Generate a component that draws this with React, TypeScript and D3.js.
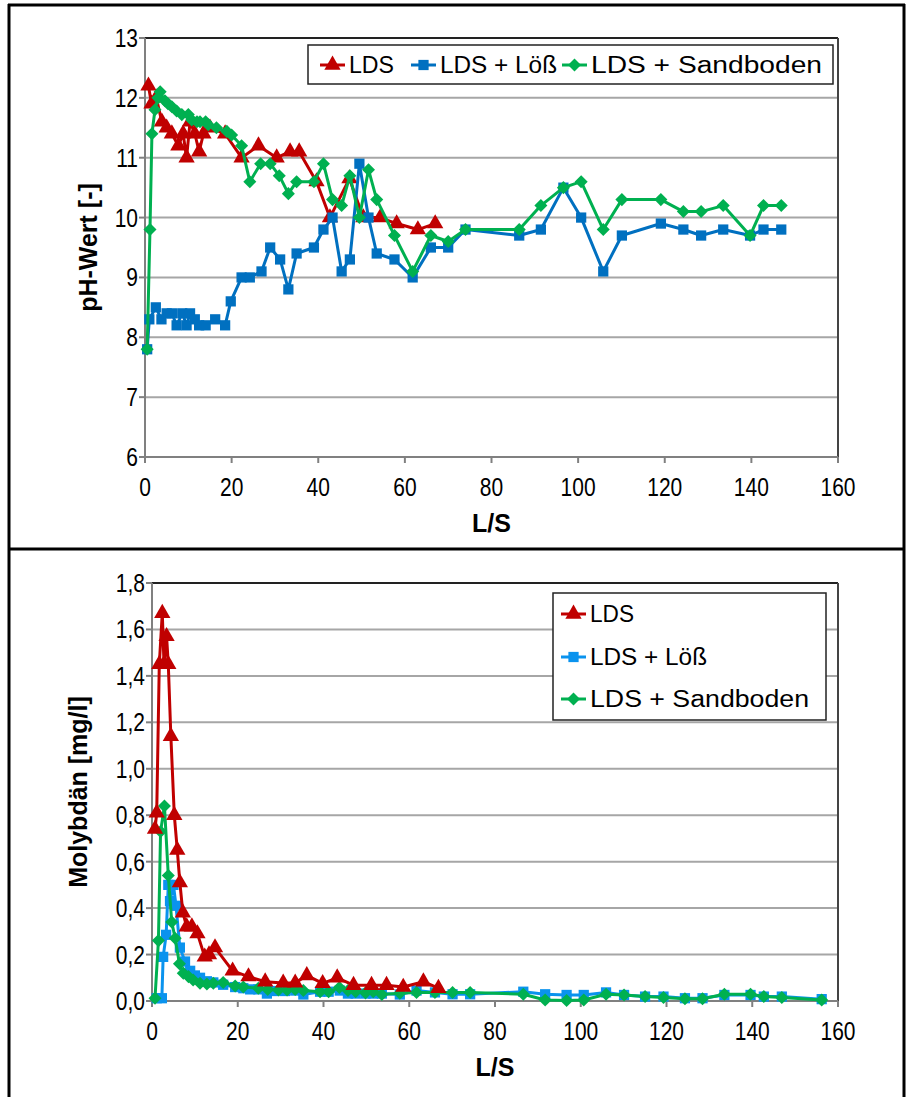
import React from 'react';
import * as d3 from 'd3';

// L/S vs value
const phLds = [[0.8,12.2],[1.5,11.9],[2.6,12.0],[3.9,11.6],[5.0,11.5],[6.2,11.4],[7.7,11.2],[8.8,11.4],[9.6,11.0],[10.4,11.6],[11.5,11.4],[12.5,11.1],[13.5,11.4],[15.0,11.5],[18.5,11.4],[22.3,11.0],[26.2,11.2],[30.4,11.0],[33.5,11.1],[35.6,11.1],[39.6,10.6],[42.7,10.0],[47.2,10.65],[50.4,10.0],[54.3,10.0],[58.1,9.9],[63.0,9.8],[67.0,9.9]];
const phLoess = [[0.5,7.8],[1.0,8.3],[2.5,8.5],[3.8,8.3],[5.0,8.4],[6.2,8.4],[7.3,8.2],[8.6,8.4],[9.6,8.2],[10.4,8.4],[11.5,8.3],[12.5,8.2],[14.0,8.2],[16.2,8.3],[18.5,8.2],[19.8,8.6],[22.3,9.0],[24.2,9.0],[26.9,9.1],[28.9,9.5],[31.2,9.3],[33.1,8.8],[35.0,9.4],[39.0,9.5],[41.2,9.8],[43.3,10.0],[45.4,9.1],[47.3,9.3],[49.5,10.9],[51.6,10.0],[53.5,9.4],[57.6,9.3],[61.8,9.0],[66.0,9.5],[70.0,9.5],[74.0,9.8],[86.4,9.7],[91.4,9.8],[96.6,10.5],[100.7,10.0],[105.8,9.1],[110.1,9.7],[119.1,9.9],[124.3,9.8],[128.4,9.7],[133.5,9.8],[139.7,9.7],[142.8,9.8],[146.9,9.8]];
const phSand = [[0.5,7.8],[1.15,9.8],[1.6,11.4],[2.3,11.8],[3.0,12.0],[3.5,12.1],[4.6,11.95],[5.3,11.9],[6.2,11.85],[7.3,11.78],[8.5,11.72],[10.0,11.72],[10.8,11.63],[12.0,11.6],[12.7,11.6],[14.0,11.6],[14.6,11.55],[16.5,11.5],[18.9,11.44],[20.0,11.38],[22.3,11.2],[24.2,10.6],[26.7,10.9],[28.9,10.9],[31.0,10.7],[33.1,10.4],[35.0,10.6],[39.0,10.6],[41.2,10.9],[43.3,10.3],[45.4,10.2],[47.3,10.7],[49.5,10.0],[51.6,10.8],[53.5,10.3],[57.6,9.7],[61.8,9.1],[66.0,9.7],[70.0,9.6],[74.0,9.8],[86.4,9.8],[91.4,10.2],[96.6,10.5],[100.7,10.6],[105.8,9.8],[110.1,10.3],[119.1,10.3],[124.3,10.1],[128.4,10.1],[133.5,10.2],[139.7,9.7],[142.8,10.2],[146.9,10.2]];

const moLds = [[0.7,0.74],[1.1,0.81],[1.7,1.45],[2.4,1.67],[2.8,1.45],[3.4,1.57],[3.8,1.45],[4.4,1.14],[5.2,0.80],[5.9,0.65],[6.5,0.51],[7.2,0.38],[8.1,0.32],[9.3,0.32],[10.6,0.29],[12.3,0.19],[13.3,0.20],[14.7,0.23],[18.8,0.13],[22.5,0.105],[26.4,0.083],[30.6,0.078],[33.4,0.078],[36.1,0.11],[39.8,0.076],[43.2,0.10],[47.0,0.068],[51.2,0.068],[54.7,0.068],[58.6,0.06],[63.3,0.083],[66.8,0.055]];
const moLoess = [[1.1,0.012],[2.3,0.012],[2.6,0.19],[3.3,0.285],[3.8,0.50],[4.2,0.43],[5.0,0.50],[5.6,0.41],[6.5,0.23],[7.7,0.17],[8.9,0.13],[10.0,0.11],[11.2,0.10],[12.8,0.085],[14.3,0.08],[16.6,0.07],[19.4,0.06],[21.3,0.055],[22.9,0.05],[24.8,0.05],[26.8,0.032],[28.6,0.043],[31.0,0.043],[33.4,0.045],[35.3,0.028],[39.2,0.04],[41.2,0.04],[43.8,0.045],[45.7,0.032],[47.5,0.032],[49.8,0.032],[51.6,0.032],[53.6,0.032],[57.8,0.028],[61.7,0.045],[66.0,0.037],[70.1,0.029],[74.2,0.029],[86.6,0.04],[91.7,0.029],[96.7,0.026],[100.7,0.026],[105.9,0.037],[110.1,0.026],[115.0,0.019],[119.3,0.019],[124.3,0.012],[128.4,0.012],[133.5,0.026],[139.6,0.026],[142.7,0.019],[146.9,0.019],[156.2,0.008]];
const moSand = [[0.7,0.012],[1.5,0.26],[2.0,0.73],[2.9,0.84],[3.8,0.54],[4.6,0.34],[5.4,0.27],[6.4,0.16],[7.3,0.12],[8.5,0.105],[9.6,0.09],[11.2,0.076],[12.8,0.073],[14.3,0.076],[16.6,0.08],[19.4,0.065],[21.3,0.06],[24.8,0.055],[27.0,0.05],[29.5,0.047],[31.5,0.047],[33.4,0.05],[35.3,0.045],[39.2,0.04],[41.2,0.04],[43.7,0.058],[45.7,0.045],[47.5,0.04],[49.8,0.035],[51.6,0.04],[53.6,0.028],[57.8,0.033],[61.7,0.037],[66.0,0.037],[70.1,0.037],[74.2,0.037],[86.6,0.029],[91.7,0.004],[96.7,0.002],[100.7,0.004],[105.9,0.029],[110.1,0.026],[115.0,0.019],[119.3,0.015],[124.3,0.01],[128.4,0.01],[133.5,0.029],[139.6,0.029],[142.7,0.019],[146.9,0.015],[156.2,0.004]];

const xTicks = [0, 20, 40, 60, 80, 100, 120, 140, 160];
const phTicks = [6, 7, 8, 9, 10, 11, 12, 13];
const moTicks = [0, 0.2, 0.4, 0.6, 0.8, 1.0, 1.2, 1.4, 1.6, 1.8];
const seriesNames = ['LDS', 'LDS + Löß', 'LDS + Sandboden'];

const RED = '#C00000';
const GREEN = '#00B050';
const GRID = '#A6A6A6';
const FONT = '"Liberation Sans", Arial, sans-serif';

// symmetric diamond like Excel's marker
const diamond = {
  draw(ctx: any, size: number) {
    const r = Math.sqrt(size / 2);
    ctx.moveTo(0, -r);
    ctx.lineTo(r, 0);
    ctx.lineTo(0, r);
    ctx.lineTo(-r, 0);
    ctx.closePath();
  },
};

const markers: any = {
  tri: d3.symbol().type(d3.symbolTriangle).size(115)(),
  sq: d3.symbol().type(d3.symbolSquare).size(105)(),
  dia: d3.symbol().type(diamond as any).size(85)(),
};

type Series = { name: string; data: number[][]; color: string; marker: string };

// condensed tick label, like the narrow Arial in the original
function Tick({ x, y, anchor, children }: any) {
  return (
    <text
      transform={`translate(${x},${y}) scale(0.84,1)`}
      dy="0.36em"
      textAnchor={anchor}
      fontSize={25}
      fontFamily={FONT}
    >
      {children}
    </text>
  );
}

function Legend({ series, items, lengths }: any) {
  return (
    <g>
      {series.map((s: Series, i: number) => {
        const p = items[i];
        return (
          <g key={'lg' + i}>
            <line x1={p[0]} x2={p[0] + 25} y1={p[1]} y2={p[1]} stroke={s.color} strokeWidth={3} />
            <path d={markers[s.marker]} transform={`translate(${p[0] + 12.5},${p[1]})`} fill={s.color} />
            <text
              x={p[0] + 29}
              y={p[1]}
              dy="0.36em"
              fontSize={23}
              fontFamily={FONT}
              textLength={lengths[i]}
              lengthAdjust="spacingAndGlyphs"
            >
              {s.name}
            </text>
          </g>
        );
      })}
    </g>
  );
}

function Panel({ box, yDomain, yTicks, fmt, yTitle, yTitleX, series }: any) {
  const x = d3.scaleLinear().domain([0, 160]).range([box.x0, box.x1]);
  const y = d3.scaleLinear().domain(yDomain).range([box.y1, box.y0]);
  const line = d3.line<number[]>().x(d => x(d[0])).y(d => y(d[1]));
  const midY = (box.y0 + box.y1) / 2;
  const midX = (box.x0 + box.x1) / 2;

  return (
    <g>
      {yTicks.map((t: number) => (
        <g key={'y' + t}>
          {t !== yDomain[0] && t !== yDomain[1] && (
            <line x1={box.x0} x2={box.x1} y1={y(t)} y2={y(t)} stroke={GRID} strokeWidth={2} />
          )}
          <line x1={box.x0 - 6} x2={box.x0} y1={y(t)} y2={y(t)} stroke="#808080" strokeWidth={2} />
          <Tick x={box.x0 - 7} y={y(t)} anchor="end">{fmt(t)}</Tick>
        </g>
      ))}
      {xTicks.map(t => (
        <g key={'x' + t}>
          <line x1={x(t)} x2={x(t)} y1={box.y1} y2={box.y1 + 6} stroke="#808080" strokeWidth={2} />
          <Tick x={x(t)} y={box.y1 + 30} anchor="middle">{t}</Tick>
        </g>
      ))}
      {/* plot frame */}
      <line x1={box.x0} x2={box.x1} y1={box.y0} y2={box.y0} stroke="#222" strokeWidth={2} />
      <line x1={box.x1} x2={box.x1} y1={box.y0} y2={box.y1} stroke="#444" strokeWidth={2} />
      <line x1={box.x0} x2={box.x0} y1={box.y0} y2={box.y1} stroke="#808080" strokeWidth={2} />
      <line x1={box.x0} x2={box.x1} y1={box.y1} y2={box.y1} stroke="#808080" strokeWidth={2} />

      {series.map((s: Series) => (
        <g key={s.name}>
          <path d={line(s.data) || ''} fill="none" stroke={s.color} strokeWidth={3} strokeLinejoin="round" />
          {s.data.map((d, i) => (
            <path key={i} d={markers[s.marker]} transform={`translate(${x(d[0])},${y(d[1])})`} fill={s.color} />
          ))}
        </g>
      ))}

      <text
        transform={`translate(${yTitleX},${midY}) rotate(-90)`}
        textAnchor="middle"
        dy="0.36em"
        fontSize={25}
        fontWeight="bold"
        fontFamily={FONT}
      >
        {yTitle}
      </text>
      <text x={midX} y={box.y1 + 66} dy="0.36em" textAnchor="middle" fontSize={25} fontWeight="bold" fontFamily={FONT}>
        L/S
      </text>
    </g>
  );
}

export default function App() {
  const topSeries: Series[] = [
    { name: seriesNames[0], data: phLds, color: RED, marker: 'tri' },
    { name: seriesNames[1], data: phLoess, color: '#0070C0', marker: 'sq' },
    { name: seriesNames[2], data: phSand, color: GREEN, marker: 'dia' },
  ];
  const bottomSeries: Series[] = [
    { name: seriesNames[0], data: moLds, color: RED, marker: 'tri' },
    { name: seriesNames[1], data: moLoess, color: '#0A93EE', marker: 'sq' },
    { name: seriesNames[2], data: moSand, color: GREEN, marker: 'dia' },
  ];
  // bottom chart draws Löß under Sandboden but LDS on top
  const bottomDraw = [bottomSeries[1], bottomSeries[2], bottomSeries[0]];

  const fmtPh = (t: number) => String(t);
  const fmtMo = (t: number) => d3.format('.1f')(t).replace('.', ',');

  return (
    <svg width={907} height={1097} style={{ position: 'absolute', left: 0, top: 0, background: 'white' }}>
      <rect x={0} y={0} width={907} height={1097} fill="white" />
      <Panel
        box={{ x0: 145, x1: 838, y0: 38, y1: 457 }}
        yDomain={[6, 13]}
        yTicks={phTicks}
        fmt={fmtPh}
        yTitle="pH-Wert [-]"
        yTitleX={88}
        series={topSeries}
      />
      <rect x={308} y={45} width={525} height={39} fill="white" stroke="#222" strokeWidth={1.5} />
      <Legend series={topSeries} items={[[320, 65], [411, 65], [562, 65]]} lengths={[45, 117, 231]} />

      <Panel
        box={{ x0: 152, x1: 838, y0: 583, y1: 1001 }}
        yDomain={[0, 1.8]}
        yTicks={moTicks}
        fmt={fmtMo}
        yTitle="Molybdän [mg/l]"
        yTitleX={78}
        series={bottomDraw}
      />
      <rect x={553} y={593} width={273} height={127} fill="white" stroke="#222" strokeWidth={1.5} />
      <Legend series={bottomSeries} items={[[561, 614], [561, 657], [561, 699]]} lengths={[44, 117, 219]} />

      {/* outer frame */}
      <line x1={9} x2={9} y1={4} y2={1097} stroke="black" strokeWidth={3} />
      <line x1={904} x2={904} y1={4} y2={1097} stroke="black" strokeWidth={3} />
      <line x1={8} x2={905} y1={5} y2={5} stroke="black" strokeWidth={3} />
      <line x1={8} x2={905} y1={549} y2={549} stroke="black" strokeWidth={3} />
    </svg>
  );
}
